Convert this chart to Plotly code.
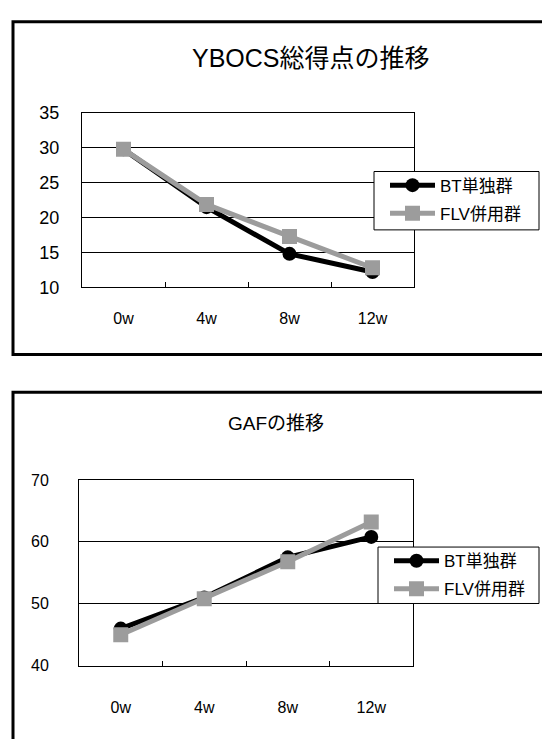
import plotly.graph_objects as go

# Time points shared by both panels
weeks = ["0w", "4w", "8w", "12w"]

# YBOCS total score
ybocs_bt = [29.8, 21.5, 14.8, 12.2]
ybocs_flv = [29.8, 21.9, 17.3, 12.8]

# GAF score
gaf_bt = [46.0, 51.0, 57.5, 60.8]
gaf_flv = [45.0, 50.8, 56.8, 63.2]

group_names = ["BT単独群", "FLV併用群"]
ybocs_ticks = [10, 15, 20, 25, 30, 35]
gaf_ticks = [40, 50, 60, 70]

W, H = 542, 739
FONT = "Liberation Sans, Arial, Noto Sans CJK JP, sans-serif"
BLACK = "#000000"
GRAY = "#9c9c9c"


def px_x(p):
    return p / W


def px_y(p):
    return 1 - p / H


fig = go.Figure()

panels = [
    ("x", "y", ybocs_bt, ybocs_flv, "legend"),
    ("x2", "y2", gaf_bt, gaf_flv, "legend2"),
]
for xa, ya, bt, flv, lg in panels:
    fig.add_trace(go.Scatter(
        x=weeks, y=bt, xaxis=xa, yaxis=ya, name=group_names[0],
        mode="lines+markers", legend=lg, legendgroup=lg + "a",
        line=dict(color=BLACK, width=5),
        marker=dict(symbol="circle", size=14, color=BLACK),
    ))
    fig.add_trace(go.Scatter(
        x=weeks, y=flv, xaxis=xa, yaxis=ya, name=group_names[1],
        mode="lines+markers", legend=lg, legendgroup=lg + "b",
        line=dict(color=GRAY, width=5),
        marker=dict(symbol="square", size=15, color=GRAY),
    ))

xcommon = dict(
    type="category", range=[-0.5, 3.5], showgrid=False,
    showline=True, linecolor=BLACK, linewidth=1, mirror=True,
    ticks="inside", tickson="boundaries", ticklen=5, tickcolor=BLACK,
    tickfont=dict(family=FONT, size=16, color=BLACK),
    fixedrange=True,
)
ycommon = dict(
    showgrid=True, gridcolor=BLACK, gridwidth=1,
    showline=True, linecolor=BLACK, linewidth=1, mirror=True,
    ticks="", zeroline=False,
    tickfont=dict(family=FONT, size=18, color=BLACK), fixedrange=True,
)

# Legend entries sit inside hand-sized white boxes drawn as shapes
legend_common = dict(
    xanchor="left", yanchor="top",
    bgcolor="rgba(0,0,0,0)", borderwidth=0,
    font=dict(family=FONT, size=17, color=BLACK),
    tracegroupgap=3, traceorder="grouped", itemwidth=45,
)

fig.update_layout(
    width=W, height=H,
    margin=dict(l=0, r=0, t=0, b=0),
    paper_bgcolor="white", plot_bgcolor="white",
    font=dict(family=FONT, color=BLACK),
    xaxis=dict(xcommon, domain=[px_x(82), px_x(414)], anchor="y",
               ticklabelstandoff=17),
    yaxis=dict(ycommon, domain=[px_y(285), px_y(106)], anchor="x",
               range=[10, 35], tickvals=ybocs_ticks, ticklabelstandoff=18),
    xaxis2=dict(xcommon, domain=[px_x(79), px_x(413)], anchor="y2",
                ticklabelstandoff=27),
    yaxis2=dict(ycommon, domain=[px_y(674), px_y(483)], anchor="x2",
                range=[40, 70], tickvals=gaf_ticks, ticklabelstandoff=26,
                tickfont=dict(family=FONT, size=16, color=BLACK)),
    legend=dict(legend_common, x=px_x(385), y=px_y(162)),
    legend2=dict(legend_common, x=px_x(389), y=px_y(548)),
    showlegend=True,
)

# Legend frames
for x0, x1, y0, y1 in [(374, 539, 166, 226), (378, 539, 552, 610)]:
    fig.add_shape(type="rect", xref="paper", yref="paper", layer="above",
                  x0=px_x(x0), x1=px_x(x1), y0=px_y(y1), y1=px_y(y0),
                  line=dict(color=BLACK, width=1), fillcolor="white")

# Panel titles
fig.add_annotation(text="YBOCS総得点の推移", x=px_x(311), y=px_y(33),
                   xref="paper", yref="paper", showarrow=False,
                   font=dict(family=FONT, size=25, color=BLACK))
fig.add_annotation(text="GAFの推移", x=px_x(276), y=px_y(425),
                   xref="paper", yref="paper", showarrow=False,
                   font=dict(family=FONT, size=19, color=BLACK))

# Outer chart-area frames (they run past the page's right and bottom edges)
fig.add_shape(type="rect", xref="paper", yref="paper",
              x0=px_x(13), x1=px_x(600), y0=px_y(354), y1=px_y(12),
              line=dict(color=BLACK, width=3), fillcolor="rgba(0,0,0,0)")
fig.add_shape(type="rect", xref="paper", yref="paper",
              x0=px_x(13), x1=px_x(600), y0=px_y(800), y1=px_y(393),
              line=dict(color=BLACK, width=3), fillcolor="rgba(0,0,0,0)")

fig.write_html("out.html")
